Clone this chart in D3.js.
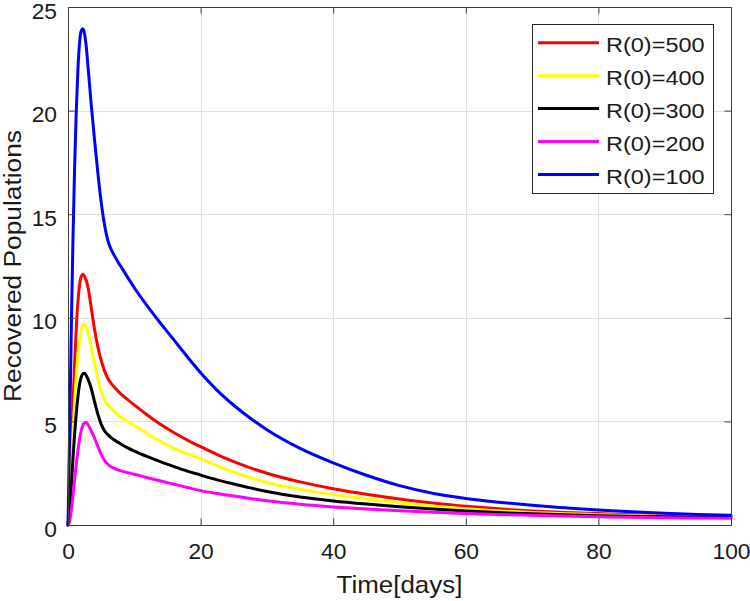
<!DOCTYPE html>
<html>
<head>
<meta charset="utf-8">
<script src="https://cdn.jsdelivr.net/npm/d3@7"></script>
<style>
  html, body { margin: 0; padding: 0; background: #fff; }
  svg { display: block; }
  text { font-family: "Liberation Sans", Arial, Helvetica, sans-serif; fill: #1a1a1a; }
</style>
</head>
<body>
<svg id="chart" width="750" height="601"></svg>
<script>
// ---------------- data ----------------
const time = [0, 0.25, 0.5, 0.75, 1, 1.25, 1.5, 1.75, 2, 2.25, 2.5, 2.75, 3, 3.5, 4, 4.5, 5, 5.5, 6, 6.5, 7, 7.5, 8, 9, 10, 12, 14, 16, 18, 20, 22.5, 25, 27.5, 30, 35, 40, 45, 50, 55, 60, 65, 70, 75, 80, 85, 90, 95, 100];

const r500 = [0, 1.5, 3.6, 5.8, 7.8, 9.5, 10.8, 11.6, 12.0, 12.1, 12.0, 11.8, 11.5, 10.5, 9.45, 8.6, 7.95, 7.45, 7.08, 6.84, 6.65, 6.48, 6.32, 6.05, 5.8, 5.3, 4.85, 4.45, 4.1, 3.78, 3.4, 3.06, 2.76, 2.5, 2.08, 1.75, 1.48, 1.25, 1.06, 0.9, 0.78, 0.68, 0.6, 0.55, 0.5, 0.46, 0.43, 0.41];
const r400 = [0, 1.1, 2.7, 4.4, 5.9, 7.2, 8.2, 8.9, 9.4, 9.65, 9.7, 9.55, 9.3, 8.6, 7.85, 7.05, 6.45, 6.05, 5.8, 5.62, 5.47, 5.33, 5.2, 5.0, 4.8, 4.4, 4.02, 3.7, 3.44, 3.2, 2.86, 2.55, 2.28, 2.05, 1.72, 1.47, 1.26, 1.07, 0.91, 0.78, 0.68, 0.6, 0.54, 0.5, 0.46, 0.43, 0.41, 0.40];
const r300 = [0, 0.7, 1.9, 3.2, 4.4, 5.4, 6.2, 6.8, 7.15, 7.3, 7.32, 7.22, 7.05, 6.6, 5.95, 5.35, 4.87, 4.55, 4.36, 4.22, 4.1, 4.0, 3.9, 3.72, 3.57, 3.3, 3.05, 2.82, 2.6, 2.41, 2.18, 1.98, 1.79, 1.62, 1.35, 1.16, 1.01, 0.88, 0.77, 0.68, 0.6, 0.54, 0.49, 0.45, 0.42, 0.4, 0.38, 0.37];
const r200 = [0, 0.2, 0.7, 1.4, 2.2, 2.95, 3.6, 4.15, 4.55, 4.82, 4.94, 4.95, 4.85, 4.55, 4.2, 3.8, 3.42, 3.12, 2.93, 2.81, 2.73, 2.66, 2.61, 2.52, 2.45, 2.28, 2.12, 1.97, 1.81, 1.66, 1.52, 1.4, 1.28, 1.17, 1.0, 0.87, 0.77, 0.69, 0.62, 0.56, 0.51, 0.47, 0.43, 0.4, 0.37, 0.35, 0.34, 0.33];
const r100 = [0, 4.5, 9.5, 13.8, 17.3, 20.0, 22.0, 23.3, 23.85, 23.95, 23.7, 23.1, 22.2, 20.3, 18.6, 17.0, 15.6, 14.5, 13.75, 13.3, 13.0, 12.72, 12.46, 11.95, 11.45, 10.55, 9.72, 8.92, 8.12, 7.35, 6.5, 5.78, 5.15, 4.6, 3.7, 3.0, 2.4, 1.9, 1.53, 1.28, 1.1, 0.95, 0.83, 0.72, 0.64, 0.57, 0.51, 0.47];

const seriesNames = ["R(0)=500", "R(0)=400", "R(0)=300", "R(0)=200", "R(0)=100"];
const seriesValues = [r500, r400, r300, r200, r100];
const seriesColors = ["#ff0000", "#ffff00", "#000000", "#ff00ff", "#0000ff"];

const xTicks = [0, 20, 40, 60, 80, 100];
const yTicks = [0, 5, 10, 15, 20, 25];
const xLabel = "Time[days]";
const yLabel = "Recovered Populations";

// ---------------- layout ----------------
const L = 68, R = 731, T = 7, B = 525;
const svg = d3.select("#chart");

const x = d3.scaleLinear().domain([0, 100]).range([L, R]);
const y = d3.scaleLinear().domain([0, 25]).range([B, T]);

const tickFont = 21.5, tickSX = 1.06;
const axisColor = "#404040";

// grid
const grid = svg.append("g");
grid.selectAll("line.gx").data(xTicks.slice(1, -1)).join("line")
  .attr("x1", d => Math.round(x(d)) + 0.5).attr("x2", d => Math.round(x(d)) + 0.5)
  .attr("y1", T).attr("y2", B)
  .attr("stroke", "#dfdfdf").attr("stroke-width", 1);
grid.selectAll("line.gy").data(yTicks.slice(1, -1)).join("line")
  .attr("y1", d => Math.round(y(d)) + 0.5).attr("y2", d => Math.round(y(d)) + 0.5)
  .attr("x1", L).attr("x2", R)
  .attr("stroke", "#dfdfdf").attr("stroke-width", 1);

// lines
const line = d3.line().x((d, i) => x(time[i])).y(d => y(d)).curve(d3.curveMonotoneX);
const plot = svg.append("g");
seriesValues.forEach((vals, k) => {
  plot.append("path")
    .datum(vals)
    .attr("d", line)
    .attr("fill", "none")
    .attr("stroke", seriesColors[k])
    .attr("stroke-width", 3)
    .attr("stroke-linejoin", "round")
    .attr("stroke-linecap", "round");
});

// axes (ticks inward, box on)
const tl = 6.6;
const xAxisB = d3.axisBottom(x).tickValues(xTicks).tickSize(-tl).tickPadding(0).tickFormat(d3.format("d"));
const xAxisT = d3.axisTop(x).tickValues(xTicks).tickSize(-tl).tickFormat("");
const yAxisL = d3.axisLeft(y).tickValues(yTicks).tickSize(-tl).tickPadding(0).tickFormat(d3.format("d"));
const yAxisR = d3.axisRight(y).tickValues(yTicks).tickSize(-tl).tickFormat("");

function styleAxis(g) {
  g.select(".domain").attr("stroke", axisColor).attr("stroke-width", 1);
  g.selectAll(".tick line").attr("stroke", axisColor).attr("stroke-width", 1);
}

const gxb = svg.append("g").attr("transform", `translate(0,${B})`).call(xAxisB).call(styleAxis);
gxb.selectAll(".tick text")
  .attr("x", 0).attr("y", 0).attr("dy", null)
  .attr("transform", `translate(0,34) scale(${tickSX},1)`)
  .attr("text-anchor", "middle")
  .style("font-size", tickFont + "px").style("fill", "#1a1a1a")
  .style("font-family", '"Liberation Sans", Arial, sans-serif');

svg.append("g").attr("transform", `translate(0,${T})`).call(xAxisT).call(styleAxis);

const gyl = svg.append("g").attr("transform", `translate(${L},0)`).call(yAxisL).call(styleAxis);
gyl.selectAll(".tick text")
  .attr("x", 0).attr("y", 0).attr("dy", null)
  .attr("transform", `translate(-11,11) scale(${tickSX},1)`)
  .attr("text-anchor", "end")
  .style("font-size", tickFont + "px").style("fill", "#1a1a1a")
  .style("font-family", '"Liberation Sans", Arial, sans-serif');

svg.append("g").attr("transform", `translate(${R},0)`).call(yAxisR).call(styleAxis);

// axis labels
svg.append("text")
  .attr("transform", `translate(${(L + R) / 2},593) scale(1.08,1)`)
  .attr("text-anchor", "middle")
  .style("font-size", "24px")
  .text(xLabel);
svg.append("text")
  .attr("transform", `translate(21.3,${(T + B) / 2}) rotate(-90) scale(1.12,1)`)
  .attr("text-anchor", "middle")
  .style("font-size", "23.5px")
  .text(yLabel);

// legend
const lg = svg.append("g");
lg.append("rect")
  .attr("x", 532.5).attr("y", 24.5).attr("width", 181).attr("height", 169)
  .attr("fill", "#fff").attr("stroke", "#262626").attr("stroke-width", 1);
const entryY = d3.scalePoint().domain(seriesNames).range([42.7, 174.5]);
seriesNames.forEach((name, k) => {
  const yy = entryY(name);
  lg.append("line")
    .attr("x1", 538).attr("x2", 599).attr("y1", yy).attr("y2", yy)
    .attr("stroke", seriesColors[k]).attr("stroke-width", 3);
  lg.append("text")
    .attr("transform", `translate(606,${yy + 9}) scale(1.12,1)`)
    .attr("text-anchor", "start")
    .style("font-size", "21px")
    .text(name);
});
</script>
</body>
</html>
